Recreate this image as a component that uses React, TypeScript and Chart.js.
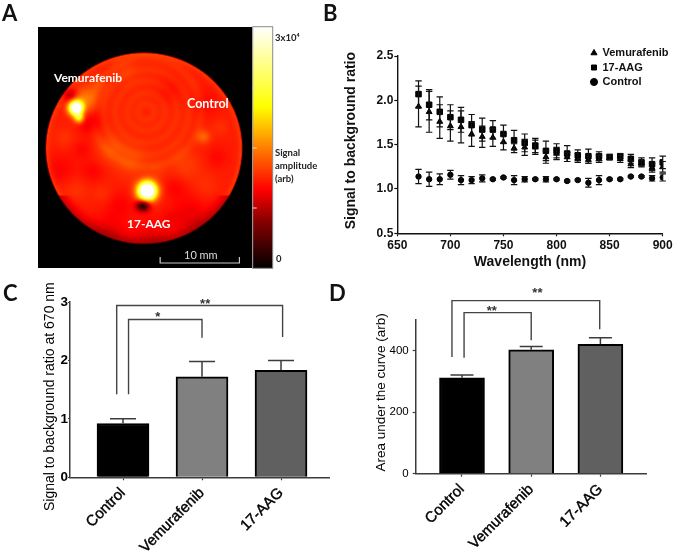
import { useEffect, useRef } from "react";
import { Chart, registerables } from "chart.js";
Chart.register(...registerables);

// ---------- Panel B data ----------
const wavelengths = [670,680,690,700,710,720,730,740,750,760,770,780,790,800,810,820,830,840,850,860,870,880,890,900];
const vemurafenib = [1.93,1.87,1.76,1.71,1.70,1.62,1.59,1.58,1.53,1.46,1.47,1.47,1.36,1.40,1.36,1.35,1.33,1.34,1.35,1.34,1.28,1.29,1.24,1.25];
const vemurafenibErr = [0.23,0.23,0.19,0.17,0.18,0.14,0.12,0.10,0.09,0.05,0.09,0.08,0.07,0.07,0.05,0.05,0.04,0.04,0.02,0.04,0.04,0.03,0.05,0.06];
const aag = [2.07,1.95,1.87,1.81,1.78,1.72,1.67,1.67,1.62,1.55,1.52,1.49,1.43,1.43,1.40,1.38,1.37,1.37,1.36,1.37,1.34,1.30,1.28,1.30];
const aagErr = [0.15,0.17,0.17,0.14,0.14,0.12,0.13,0.10,0.10,0.11,0.10,0.08,0.11,0.08,0.09,0.06,0.08,0.05,0.03,0.03,0.05,0.05,0.07,0.07];
const control = [1.14,1.11,1.11,1.16,1.10,1.10,1.12,1.11,1.13,1.10,1.11,1.11,1.11,1.11,1.09,1.10,1.07,1.10,1.11,1.11,1.14,1.14,1.12,1.13];
const controlErr = [0.08,0.08,0.06,0.05,0.05,0.04,0.04,0.01,0.01,0.05,0.03,0.01,0.03,0.01,0.01,0.01,0.05,0.05,0.01,0.01,0.01,0.01,0.03,0.04];

// ---------- Panels C and D data ----------
const groups = ["Control", "Vemurafenib", "17-AAG"];
const barColors = ["#000000", "#808080", "#606060"];
const ratio670 = [0.92, 1.72, 1.83];
const ratio670Err = [0.08, 0.26, 0.17];
const auc = [312, 403, 421];
const aucErr = [9, 11, 21];
// [left x, left bottom, top, right x, right bottom]
const bracketsC = [[-0.08,1.42,2.94,2.02,2.40],[0.07,1.42,2.70,1.0,2.39]];
const bracketsD = [[-0.145,380,563,1.99,470],[0.03,377,524,1.0,434]];
const starsC = [{ text: "*", x: 0.44, y: 2.77 }, { text: "**", x: 1.04, y: 3.0 }];
const starsD = [{ text: "**", x: 0.43, y: 534 }, { text: "**", x: 1.09, y: 592 }];

// ---------- Panel A data (mm in the image, amplitude as fraction of colour bar) ----------
const colorStops: [number, string][] = [[0,"#000000"],[0.2,"#8b0000"],[0.325,"#ff0000"],[0.5,"#ff8000"],[0.67,"#ffff00"],[1,"#ffffff"]];
const discCentre = { x: 13.4, y: 15.15, rx: 12.39, ry: 12.1 };
const ringCentre = { x: 13.67, y: 19.76 };
const ringRadii = [1.0, 2.4, 3.9, 5.4, 6.9];
const spots = [
  { x: 4.84, y: 20.27, s: 0.62, a: 0.85 },
  { x: 5.22, y: 19.0, s: 0.45, a: 0.3 },
  { x: 5.98, y: 21.5, s: 1.0, a: 0.12 },
  { x: 13.82, y: 9.75, s: 0.8, a: 1.0 },
  { x: 13.0, y: 7.9, s: 0.5, a: -0.2 },
  { x: 13.6, y: 7.9, s: 0.5, a: -0.2 },
  { x: 20.9, y: 16.6, s: 0.6, a: 0.1 },
  { x: 4.08, y: 21.9, s: 0.6, a: -0.13 },
  { x: 6.6, y: 18.5, s: 1.0, a: -0.07 },
  { x: 9.14, y: 15.0, s: 1.2, a: 0.055 },
  { x: 11.66, y: 13.4, s: 1.4, a: 0.055 },
  { x: 18.6, y: 13.0, s: 1.4, a: 0.045 },
  { x: 16.7, y: 22.5, s: 1.2, a: -0.03 },
  { x: 9.1, y: 4.8, s: 1.6, a: -0.045 },
  { x: 19.2, y: 6.7, s: 1.6, a: -0.055 },
  { x: 10.4, y: 8.0, s: 1.2, a: -0.035 },
  { x: 2.8, y: 12.4, s: 1.4, a: -0.035 },
  { x: 4.7, y: 9.9, s: 1.2, a: 0.03 },
  { x: 14.2, y: 4.2, s: 1.6, a: -0.045 },
  { x: 6.9, y: 12.2, s: 1.0, a: -0.035 },
  { x: 8.2, y: 9.4, s: 0.9, a: 0.025 },
  { x: 17.4, y: 10.2, s: 1.0, a: -0.035 },
  { x: 21.2, y: 10.4, s: 1.1, a: 0.025 },
  { x: 22.6, y: 14.0, s: 0.9, a: -0.03 },
  { x: 21.0, y: 20.8, s: 1.2, a: -0.03 },
  { x: 11.0, y: 25.0, s: 1.1, a: 0.025 },
  { x: 7.6, y: 23.2, s: 0.9, a: 0.035 },
  { x: 3.4, y: 16.5, s: 0.9, a: 0.03 },
  { x: 16.8, y: 6.2, s: 0.8, a: -0.025 },
  { x: 5.6, y: 15.0, s: 0.8, a: -0.03 },
  { x: 15.0, y: 12.4, s: 0.9, a: 0.03 },
  { x: 23.0, y: 17.8, s: 0.8, a: 0.025 },
];

const LATO = "Lato, 'Open Sans', sans-serif";
const ARIAL = "'Liberation Sans', Arial, sans-serif";

type Label = { text: string; x: number; y: number; font: string; color: string; align?: CanvasTextAlign };

function textPlugin(labels: Label[]) {
  return {
    id: "texts",
    afterDraw(chart: any) {
      const c = chart.ctx;
      c.save();
      c.textBaseline = "middle";
      for (const l of labels) {
        c.font = l.font;
        c.fillStyle = l.color;
        c.textAlign = l.align || "left";
        c.fillText(l.text, l.x, l.y);
      }
      c.restore();
    },
  };
}

const errorBars = {
  id: "errorBars",
  afterDatasetsDraw(chart: any) {
    const c = chart.ctx;
    const { x, y } = chart.scales;
    chart.data.datasets.forEach((ds: any) => {
      if (!ds.errors) return;
      c.save();
      c.strokeStyle = ds.errorColor;
      c.lineWidth = ds.errorWidth;
      ds.data.forEach((p: any, i: number) => {
        const px = x.getPixelForValue(p.x);
        const top = y.getPixelForValue(p.y + ds.errors[i]);
        const bot = y.getPixelForValue(ds.oneSided ? p.y : p.y - ds.errors[i]);
        c.beginPath();
        c.moveTo(px, top); c.lineTo(px, bot);
        c.moveTo(px - ds.capHalf, top); c.lineTo(px + ds.capHalf, top);
        if (!ds.oneSided) { c.moveTo(px - ds.capHalf, bot); c.lineTo(px + ds.capHalf, bot); }
        c.stroke();
      });
      c.restore();
    });
  },
};

function bracketPlugin(brackets: number[][], stars: { text: string; x: number; y: number }[]) {
  return {
    id: "brackets",
    afterDraw(chart: any) {
      const c = chart.ctx;
      const { x, y } = chart.scales;
      c.save();
      c.strokeStyle = "#444";
      c.lineWidth = 1.4;
      for (const [lx, lb, t, rx, rb] of brackets) {
        c.beginPath();
        c.moveTo(x.getPixelForValue(lx), y.getPixelForValue(lb));
        c.lineTo(x.getPixelForValue(lx), y.getPixelForValue(t));
        c.lineTo(x.getPixelForValue(rx), y.getPixelForValue(t));
        c.lineTo(x.getPixelForValue(rx), y.getPixelForValue(rb));
        c.stroke();
      }
      c.fillStyle = "#333";
      c.font = `bold 13px ${ARIAL}`;
      c.textAlign = "center";
      c.textBaseline = "middle";
      for (const s of stars) c.fillText(s.text, x.getPixelForValue(s.x), y.getPixelForValue(s.y) + 2);
      c.restore();
    },
  };
}

function hexRgb(h: string) {
  return [parseInt(h.slice(1, 3), 16), parseInt(h.slice(3, 5), 16), parseInt(h.slice(5, 7), 16)];
}
function colorAt(t: number) {
  t = Math.max(0, Math.min(1, t));
  for (let i = 1; i < colorStops.length; i++) {
    if (t <= colorStops[i][0]) {
      const [t0, c0] = colorStops[i - 1];
      const [t1, c1] = colorStops[i];
      const f = (t - t0) / (t1 - t0);
      const a = hexRgb(c0), b = hexRgb(c1);
      return [a[0] + (b[0] - a[0]) * f, a[1] + (b[1] - a[1]) * f, a[2] + (b[2] - a[2]) * f];
    }
  }
  return [255, 255, 255];
}

const imagePlugin = {
  id: "image",
  beforeDatasetsDraw(chart: any) {
    const { x, y } = chart.scales;
    const a = chart.chartArea;
    const w = Math.round(a.width), h = Math.round(a.height);
    const off = document.createElement("canvas");
    off.width = w; off.height = h;
    const oc = off.getContext("2d")!;
    const img = oc.createImageData(w, h);
    for (let j = 0; j < h; j++) {
      for (let i = 0; i < w; i++) {
        const mx = x.getValueForPixel(a.left + i + 0.5);
        const my = y.getValueForPixel(a.top + j + 0.5);
        const d = Math.hypot((mx - discCentre.x) / discCentre.rx, (my - discCentre.y) / discCentre.ry);
        let t = 0;
        if (d < 1.006) {
          t = 0.362;
          if (my >= discCentre.y - 6) t += 0.04 * Math.exp(-(((1 - d) / 0.04) ** 2));
          else t -= 0.09 * Math.exp(-(((1 - d) / 0.08) ** 2));
          for (const s of spots) {
            const r2 = (mx - s.x) ** 2 + (my - s.y) ** 2;
            t += s.a * Math.exp(-r2 / (2 * s.s * s.s));
          }
          const rd = Math.hypot(mx - ringCentre.x, my - ringCentre.y);
          for (const r of ringRadii) t += 0.028 * Math.exp(-((rd - r) ** 2) / (2 * 0.45 * 0.45));
          t *= Math.min(1, (1.006 - d) / 0.012);
        }
        const rgb = colorAt(t);
        const k = (j * w + i) * 4;
        img.data[k] = rgb[0]; img.data[k + 1] = rgb[1]; img.data[k + 2] = rgb[2]; img.data[k + 3] = 255;
      }
    }
    oc.putImageData(img, 0, 0);
    const c = chart.ctx;
    c.drawImage(off, a.left, a.top, a.width, a.height);

    // colour bar
    const bx = a.right + 1, bw = 20, by = a.top, bh = a.height;
    const g = c.createLinearGradient(0, by + bh, 0, by);
    colorStops.forEach(([t, col]) => g.addColorStop(t, col));
    c.fillStyle = g;
    c.fillRect(bx, by, bw, bh);
    c.strokeStyle = "#8a8a8a";
    c.lineWidth = 1;
    c.strokeRect(bx, by, bw, bh);
    c.strokeStyle = "#e8e0d0";
    for (const ty of [88, 148, 208]) {
      c.beginPath(); c.moveTo(bx, ty); c.lineTo(bx + 4, ty); c.stroke();
    }
    // 10 mm scale bar
    const x0 = x.getPixelForValue(15.45), x1 = x.getPixelForValue(25.45), yb = y.getPixelForValue(0.67);
    c.strokeStyle = "#c8c8c8";
    c.lineWidth = 1.2;
    c.beginPath();
    c.moveTo(x0, yb - 6); c.lineTo(x0, yb); c.lineTo(x1, yb); c.lineTo(x1, yb - 6);
    c.stroke();
  },
};

function fixedY(width: number, dy: number) {
  return (s: any) => {
    s.width = width;
    if (!s._wrappedTitle) {
      s._wrappedTitle = true;
      const orig = s.drawTitle;
      s.drawTitle = function (area: any) {
        const c = this.ctx;
        c.save();
        c.translate(0, dy);
        orig.call(this, area);
        c.restore();
      };
    }
  };
}

function barConfig(
  values: number[], errs: number[], opts: any, extras: any[]
) {
  return {
    type: "bar",
    data: {
      datasets: [{
        label: opts.title,
        data: values.map((v, i) => ({ x: i, y: v })),
        backgroundColor: barColors,
        borderColor: "#000",
        borderWidth: 2,
        barThickness: opts.thick,
        errors: errs,
        errorColor: "#3c3c3c",
        errorWidth: 1.5,
        capHalf: opts.cap,
        oneSided: true,
      }],
    },
    plugins: [errorBars, ...extras],
    options: {
      responsive: false,
      animation: false,
      layout: { padding: opts.padding },
      plugins: { legend: { display: false }, tooltip: { enabled: false } },
      scales: {
        x: {
          type: "linear",
          offset: false,
          min: opts.xMin,
          max: opts.xMax,
          afterBuildTicks: (s: any) => { s.ticks = groups.map((_, i) => ({ value: i })); },
          afterFit: (s: any) => { s.height = 77.7; },
          ticks: {
            autoSkip: false, minRotation: 45, maxRotation: 45, padding: 4,
            color: "#000", font: { family: ARIAL, size: 15 },
            textStrokeColor: "#000", textStrokeWidth: 0.4,
            callback: (v: number) => groups[v],
          },
          grid: { offset: false, drawOnChartArea: false, tickLength: 3, tickColor: "#3c3c3c", tickWidth: 1.2 },
          border: { color: "#3c3c3c", width: 1.5 },
        },
        y: {
          min: 0,
          max: opts.yMax,
          afterFit: fixedY(opts.yWidth, opts.titleDy),
          title: { display: true, text: opts.title, color: "#000", padding: 0, font: { family: ARIAL, size: opts.titleSize } },
          ticks: { stepSize: opts.step, includeBounds: false, padding: opts.tickPad, color: "#000", font: { family: ARIAL, size: opts.tickSize, weight: opts.tickWeight } },
          grid: { drawOnChartArea: false, tickLength: opts.tickLen, tickColor: "#3c3c3c", tickWidth: 1.2 },
          border: { color: "#3c3c3c", width: 1.5 },
        },
      },
    },
  };
}

export default function App() {
  const a = useRef<HTMLCanvasElement>(null);
  const b = useRef<HTMLCanvasElement>(null);
  const c = useRef<HTMLCanvasElement>(null);
  const d = useRef<HTMLCanvasElement>(null);

  useEffect(() => {
    document.body.style.margin = "0";
    document.body.style.background = "#fff";
    const letter = `bold 22px ${LATO}`;
    const inImg = `bold 12px ${LATO}`;
    const cbFont = `bold 9.5px ${LATO}`;

    const chartA = new Chart(a.current as any, {
      type: "scatter",
      data: { datasets: [{ label: "Signal amplitude", data: spots.slice(0, 7).map((s) => ({ x: s.x, y: s.y })), pointRadius: 0 }] },
      plugins: [imagePlugin, textPlugin([
        { text: "A", x: 2, y: 14, font: letter, color: "#111" },
        { text: "Vemurafenib", x: 54, y: 78.5, font: inImg, color: "#fff" },
        { text: "Control", x: 187, y: 104, font: `bold 12.5px ${LATO}`, color: "#fff" },
        { text: "17-AAG", x: 127, y: 224, font: inImg, color: "#fff" },
        { text: "10 mm", x: 184, y: 255, font: `11px ${LATO}`, color: "#ddd" },
        { text: "3x10\u2074", x: 275, y: 38, font: cbFont, color: "#222" },
        { text: "Signal", x: 275, y: 153, font: cbFont, color: "#222" },
        { text: "amplitude", x: 275, y: 166, font: cbFont, color: "#222" },
        { text: "(arb)", x: 275, y: 179, font: cbFont, color: "#222" },
        { text: "0", x: 276, y: 259, font: cbFont, color: "#222" },
      ])],
      options: {
        responsive: false,
        animation: false,
        layout: { padding: { left: 37.7, top: 26.7, right: 86.3, bottom: 11.7 } },
        plugins: { legend: { display: false }, tooltip: { enabled: false } },
        scales: {
          x: { type: "linear", min: 0, max: 27, display: false },
          y: { type: "linear", min: 0, max: 30.55, display: false },
        },
      },
    } as any);

    const series = (label: string, vals: number[], errs: number[], style: string, radius: number, order: number) => ({
      label,
      data: wavelengths.map((w, i) => ({ x: w, y: vals[i] })),
      errors: errs,
      errorColor: "#111",
      errorWidth: 1.2,
      capHalf: 3.2,
      pointStyle: style,
      pointRadius: radius,
      backgroundColor: "#000",
      borderColor: "#000",
      showLine: false,
      order,
    });

    const chartB = new Chart(b.current as any, {
      type: "scatter",
      data: {
        datasets: [
          series("Vemurafenib", vemurafenib, vemurafenibErr, "triangle", 3.4, 2),
          series("17-AAG", aag, aagErr, "rect", 3.9, 1),
          series("Control", control, controlErr, "circle", 2.7, 3),
        ],
      },
      plugins: [errorBars, {
        id: "moveLegend",
        afterLayout(chart: any) {
          const l = chart.legend;
          l.left = 267.5; l.right = 355; l.top = 44; l.bottom = 100;
        },
      }, textPlugin([{ text: "B", x: 3, y: 14, font: letter, color: "#111" }])],
      options: {
        responsive: false,
        animation: false,
        layout: { padding: { left: 22.6, top: 56, right: 12.3, bottom: 9.9 } },
        plugins: {
          tooltip: { enabled: false },
          legend: {
            position: "chartArea",
            align: "start",
            labels: {
              usePointStyle: true, boxWidth: 6, boxHeight: 5, padding: 3.5,
              color: "#111", font: { family: ARIAL, size: 11, weight: "bold" },
              sort: (p: any, q: any) => p.datasetIndex - q.datasetIndex,
            },
          },
        },
        scales: {
          x: {
            type: "linear", min: 650, max: 900,
            afterFit: (s: any) => { s.height = 36.8; },
            title: { display: true, text: "Wavelength (nm)", color: "#111", padding: 0, font: { family: ARIAL, size: 14, weight: "bold" } },
            ticks: { stepSize: 50, padding: 2, maxRotation: 0, color: "#111", font: { family: ARIAL, size: 12, weight: "bold" } },
            grid: { drawOnChartArea: false, tickLength: 3, tickColor: "#111", tickWidth: 1.2 },
            border: { color: "#111", width: 1.4 },
          },
          y: {
            min: 0.5, max: 2.5,
            afterFit: fixedY(54.7, -4),
            title: { display: true, text: "Signal to background ratio", color: "#111", padding: 0, font: { family: ARIAL, size: 14, weight: "bold" } },
            ticks: { stepSize: 0.5, padding: 1, color: "#111", font: { family: ARIAL, size: 12, weight: "bold" }, callback: (v: number) => v.toFixed(1) },
            grid: { drawOnChartArea: false, tickLength: 3, tickColor: "#111", tickWidth: 1.2 },
            border: { color: "#111", width: 1.4 },
          },
        },
      },
    } as any);

    const chartC = new Chart(c.current as any, barConfig(ratio670, ratio670Err, {
      title: "Signal to background ratio at 670 nm",
      padding: { left: 41.6, top: 22, right: 0, bottom: 0 },
      thick: 52, cap: 13, xMin: -0.671, xMax: 2.62, yMax: 3, step: 1, yWidth: 28.4, titleDy: 7,
      titleSize: 14, tickSize: 13.5, tickWeight: "bold", tickPad: 0, tickLen: 2,
    }, [bracketPlugin(bracketsC, starsC), textPlugin([{ text: "C", x: 3, y: 14, font: letter, color: "#111" }])]) as any);

    const chartD = new Chart(d.current as any, barConfig(auc, aucErr, {
      title: "Area under the curve (arb)",
      padding: { left: 47.6, top: 40, right: 28.3, bottom: 3.6 },
      thick: 45, cap: 11.5, xMin: -0.669, xMax: 2.669, yMax: 500, step: 200, yWidth: 42.1, titleDy: -4.5,
      titleSize: 13.5, tickSize: 11.5, tickWeight: "normal", tickPad: 4, tickLen: 3,
    }, [bracketPlugin(bracketsD, starsD), textPlugin([{ text: "D", x: 3, y: 14, font: letter, color: "#111" }])]) as any);

    return () => { chartA.destroy(); chartB.destroy(); chartC.destroy(); chartD.destroy(); };
  }, []);

  const style = (left: number, top: number): React.CSSProperties => ({
    position: "absolute", left, top, filter: "blur(0.4px)",
  });

  return (
    <div style={{ position: "relative", width: 675, height: 555, overflow: "hidden", background: "#fff" }}>
      <canvas ref={a} width={338} height={280} style={style(0, 0)} />
      <canvas ref={b} width={355} height={280} style={style(320, 0)} />
      <canvas ref={c} width={330} height={275} style={style(0, 280)} />
      <canvas ref={d} width={349} height={275} style={style(326, 280)} />
    </div>
  );
}
